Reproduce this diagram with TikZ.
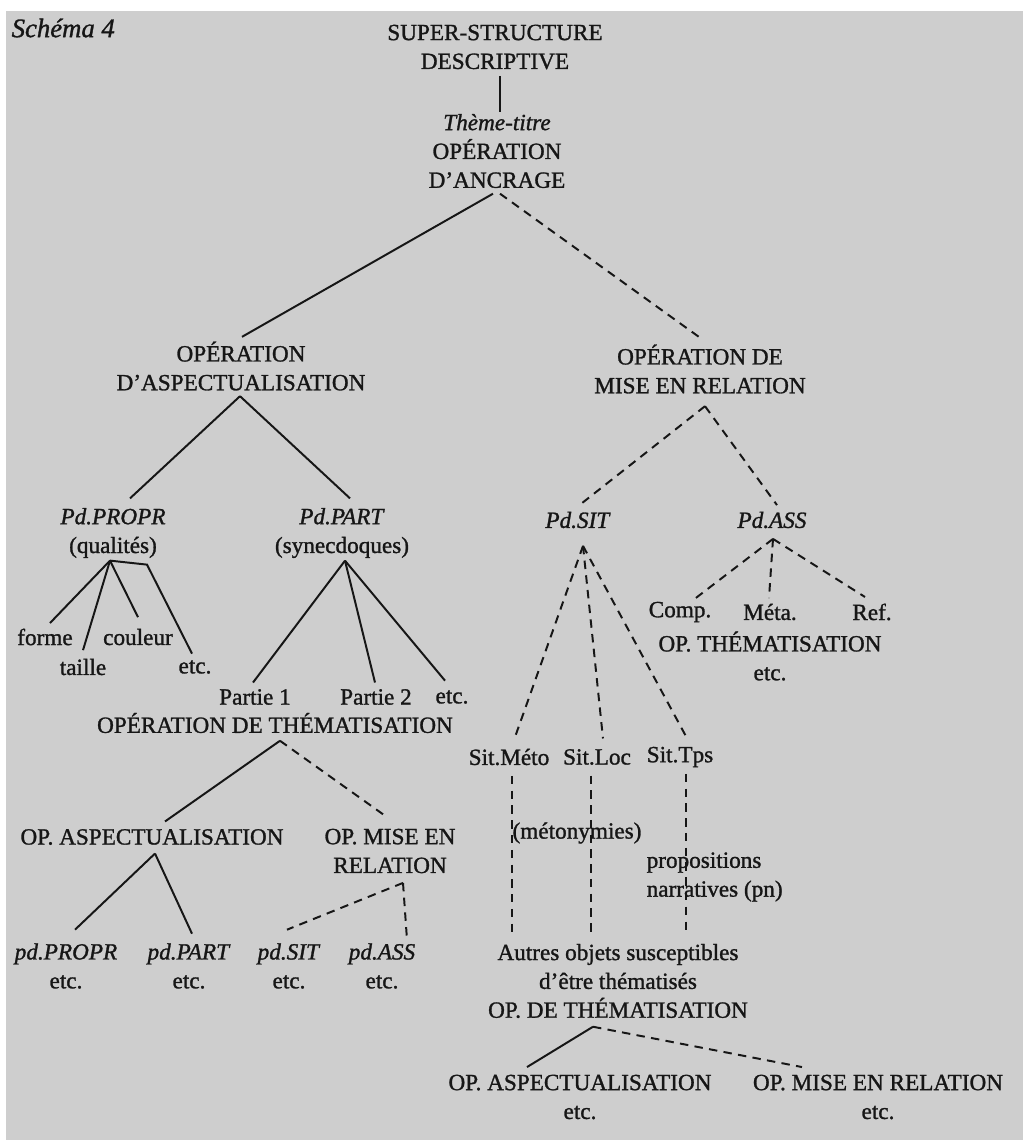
\documentclass[tikz,border=0pt]{standalone}
\usepackage{fontspec}
\setmainfont{Liberation Serif}[UprightFeatures={FakeBold=1.2},ItalicFeatures={FakeBold=1.2}]
\usetikzlibrary{calc,positioning}
\definecolor{paper}{RGB}{206,206,206}
\definecolor{ink}{RGB}{22,22,22}

\begin{document}
\begin{tikzpicture}[x=0.025cm,y=-0.025cm]
  \tikzset{lbl/.style = {align=center,inner sep=1pt,text=ink,font=\fontsize{16.5}{20.5}\selectfont}}
  \tikzset{br/.style = {draw=ink,line width=1.4pt}}
  \tikzset{dbr/.style = {draw=ink,line width=1.4pt,dash pattern=on 6pt off 4.5pt}}

  \fill[white] (0,0) rectangle (1023,1140);
  \fill[paper] (6,11) rectangle (1023,1140);
  \useasboundingbox (0,0) rectangle (1023,1140);

	\node[lbl,anchor=west,font=\fontsize{19}{22}\selectfont] (Schema) at (10,28) {\textit{Schéma 4}};
	\node[lbl] (Sstruct) at (495,47) {SUPER-STRUCTURE\\DESCRIPTIVE};
	\node[lbl] (Ancrage) at (497,151) {\textit{Thème-titre}\\OPÉRATION\\D'ANCRAGE};

	\node[lbl] (Aspect) at (241,366) {OPÉRATION\\D'ASPECTUALISATION};
	\node[lbl] (Mise) at (700,369) {OPÉRATION DE\\MISE EN RELATION};

	\node[lbl] (Propr) at (113,533) {\textit{Pd.PROPR}\\(qualités)};
	\node[lbl] (Part) at (342,533) {\textit{Pd.PART}\\(synecdoques)};
	\node[lbl] (Forme) at (45,637) {forme};
	\node[lbl] (Couleur) at (138,637) {couleur};
	\node[lbl] (Taille) at (83,667) {taille};
	\node[lbl] (EtcA) at (195,667) {etc.};
	\node[lbl] (Partie1) at (255,697) {Partie 1};
	\node[lbl] (Partie2) at (376,697) {Partie 2};
	\node[lbl] (EtcB) at (452,697) {etc.};
	\node[lbl] (Themat) at (275,723) {OPÉRATION DE THÉMATISATION};

	\node[lbl] (OpAsp) at (152,837) {OP. ASPECTUALISATION};
	\node[lbl] (OpMise) at (390,851) {OP. MISE EN\\RELATION};
	\node[lbl] (pdPropr) at (66,966) {\textit{pd.PROPR}\\etc.};
	\node[lbl] (pdPart) at (189,966) {\textit{pd.PART}\\etc.};
	\node[lbl] (pdSit) at (289,966) {\textit{pd.SIT}\\etc.};
	\node[lbl] (pdAss) at (382,966) {\textit{pd.ASS}\\etc.};

	\node[lbl] (PdSit) at (578,520) {\textit{Pd.SIT}};
	\node[lbl] (PdAss) at (772,520) {\textit{Pd.ASS}};
	\node[lbl] (Comp) at (680,612) {Comp.};
	\node[lbl] (Meta) at (770,612) {Méta.};
	\node[lbl] (Ref) at (872,612) {Ref.};
	\node[lbl] (OpThem) at (770,656) {OP. THÉMATISATION\\etc.};

	\node[lbl] (SitMeto) at (509,757) {Sit.Méto};
	\node[lbl] (SitLoc) at (597,757) {Sit.Loc};
	\node[lbl] (SitTps) at (680,757) {Sit.Tps};
	\node[lbl] (Meton) at (577,833) {(métonymies)};
	\node[lbl,anchor=west,align=left] (Propos) at (645,877) {propositions\\narratives (pn)};
	\node[lbl] (Autres) at (618,981) {Autres objets susceptibles\\d'être thématisés\\OP. DE THÉMATISATION};
	\node[lbl] (OpAsp2) at (580,1097) {OP. ASPECTUALISATION\\etc.};
	\node[lbl] (OpMise2) at (878,1097) {OP. MISE EN RELATION\\etc.};

	% tronc
	\draw[br] ($(Sstruct.south)+(5,5)$) -- ($(Sstruct.south |- Ancrage.north)+(5,0)$);
	\draw[br] ($(Ancrage.south)+(-4,4)$) -- ($(Aspect.north)+(1,-3)$);
	\draw[dbr] ($(Ancrage.south)+(3,4)$) -- ($(Mise.north)+(3,-3)$);

	% aspectualisation
	\foreach \to/\dx/\dy in {Propr/17/-8, Part/8/-8}
	\draw[br] ($(Aspect.south)+(-1,4)$) -- ($(\to.north)+(\dx,\dy)$);
	\foreach \to/\dx/\dy in {Forme/5/-4, Taille/0/-7, Couleur/0/-10}
	\draw[br] ($(Propr.south)+(-3,1)$) -- ($(\to.north)+(\dx,\dy)$);
	\draw[br] ($(Propr.south)+(-3,1)$) -- ++(37,4) -- ($(EtcA.north)+(-3,-5)$);
	\foreach \to/\dx/\dy in {Partie1/-2/-5, Partie2/-1/-5, EtcB/-7/-8}
	\draw[br] ($(Part.south)+(3,1)$) -- ($(\to.north)+(\dx,\dy)$);

	\draw[br] ($(Themat.south)+(5,6)$) -- ($(OpAsp.north)+(13,-6)$);
	\draw[dbr] ($(Themat.south)+(5,6)$) -- ($(OpMise.north)+(-3,-10)$);
	\foreach \to/\dx/\dy in {pdPropr/9/-12, pdPart/3/-8}
	\draw[br] ($(OpAsp.south)+(3,7)$) -- ($(\to.north)+(\dx,\dy)$);
	\foreach \to/\dx/\dy in {pdSit/-2/-12, pdAss/25/-2}
	\draw[dbr] ($(OpMise.south)+(13,8)$) -- ($(\to.north)+(\dx,\dy)$);

	% mise en relation
	\foreach \to/\dx/\dy in {PdSit/4/-7, PdAss/5/-5}
	\draw[dbr] ($(Mise.south)+(5,11)$) -- ($(\to.north)+(\dx,\dy)$);
	\foreach \to/\dx/\dy in {SitMeto/6/-10, SitLoc/6/-9, SitTps/7/-7}
	\draw[dbr] ($(PdSit.south)+(5,16)$) -- ($(\to.north)+(\dx,\dy)$);
	\foreach \to/\dx/\dy in {Comp/13/0, Meta/-1/-4, Ref/-7/-5}
	\draw[dbr] ($(PdAss.south)+(1,9)$) -- ($(\to.north)+(\dx,\dy)$);
	\foreach \from/\dx/\dy in {SitMeto/3/9, SitLoc/-6/9, SitTps/6/5}
	\draw[dbr] ($(\from.south)+(\dx,\dy)$) -- ($(\from.south |- Autres.north)+(\dx,-10)$);

	\draw[br] ($(Autres.south)+(-25,7)$) -- ($(OpAsp2.north)+(-53,-6)$);
	\draw[dbr] ($(Autres.south)+(-25,7)$) -- ($(OpMise2.north)+(-76,-6)$);

\end{tikzpicture}
\end{document}
